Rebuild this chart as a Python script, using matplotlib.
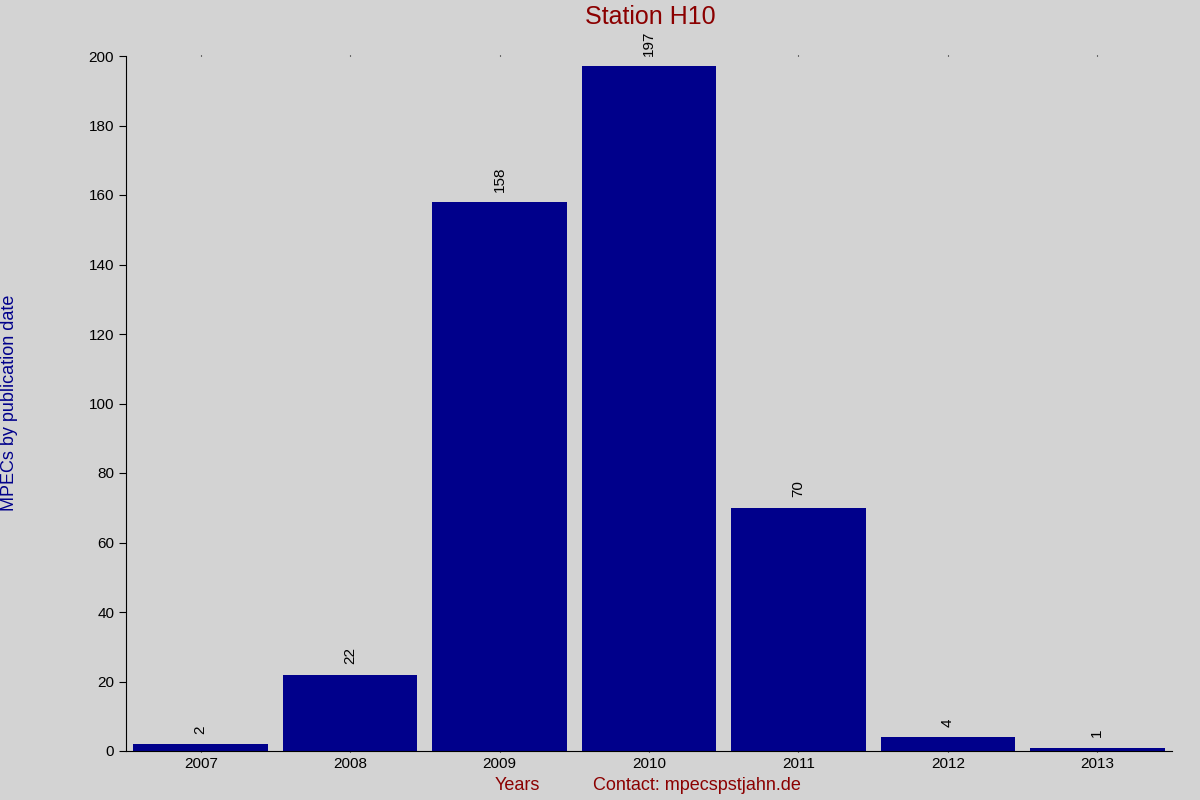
import matplotlib
matplotlib.use("Agg")
import matplotlib.pyplot as plt

years = ["2007", "2008", "2009", "2010", "2011", "2012", "2013"]
counts = [2, 22, 158, 197, 70, 4, 1]

plt.rcParams['font.family'] = ['Liberation Sans', 'DejaVu Sans']
bg = "#d3d3d3"
fig = plt.figure(figsize=(12, 8), dpi=100, facecolor=bg)
ax = fig.add_axes([126/1200, 1-751/800, (1172-126)/1200, (751-56)/800])
ax.set_facecolor(bg)
x = list(range(len(years)))
ax.bar(x, counts, width=0.9, color="#00008b")
for xi, c in zip(x, counts):
    ax.text(xi, c + 3, str(c), rotation=90, ha="center", va="bottom", fontsize=11, color="black")
ax.set_xlim(-0.5, 6.5)
ax.set_ylim(0, 200)
ax.set_yticks(range(0, 201, 20))
ax.set_xticks(x)
ax.set_xticklabels(years)
ax.tick_params(axis="both", labelsize=11, colors="black", direction="out", length=5)
ax.tick_params(axis="x", top=True, length=1)
for s in ["top", "right"]:
    ax.spines[s].set_visible(False)
fig.text(650/1200, 1-17/800, "Station H10", ha="center", va="center", fontsize=18, color="#8b0000")
fig.text(10/1200, 1-403/800, "MPECs by publication date", rotation=90, ha="center", va="center", fontsize=13, color="#00008b")
fig.text(517/1200, 1-786/800, "Years", ha="center", va="center", fontsize=13, color="#8b0000")
fig.text(697/1200, 1-786/800, "Contact: mpecspstjahn.de", ha="center", va="center", fontsize=13, color="#8b0000")
fig.savefig("out.png", facecolor=bg)
